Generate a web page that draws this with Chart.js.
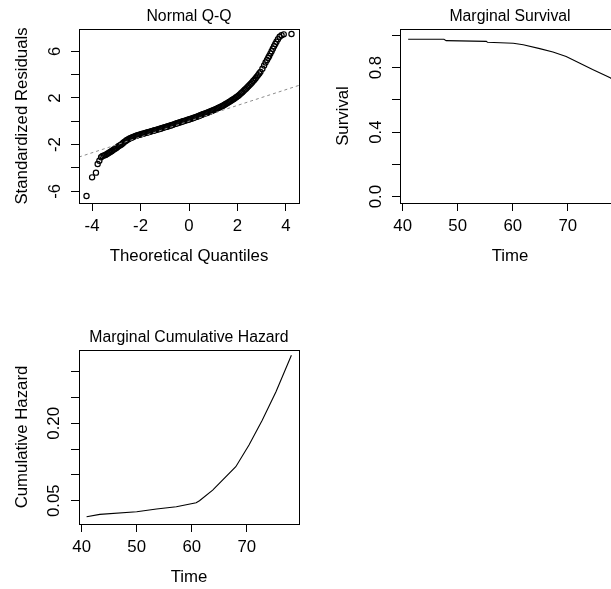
<!DOCTYPE html>
<html><head><meta charset="utf-8">
<script src="https://cdn.jsdelivr.net/npm/chart.js@4.4.0/dist/chart.umd.min.js"></script>
<style>
html,body{margin:0;padding:0;background:#fff;width:611px;height:589px;overflow:hidden;position:relative;}
canvas{position:absolute;}
</style></head><body>
<canvas id="c1" width="321" height="321" style="left:0;top:0"></canvas>
<canvas id="c2" width="321" height="321" style="left:321px;top:0"></canvas>
<canvas id="c3" width="321" height="321" style="left:0;top:321px"></canvas>
<script>
// ---- Data ----
const qqTheoretical = [-4.23,-4.00,-3.84,-3.77,-3.70,-3.63,-3.57,-3.45,-3.35,-3.25,-3.16,-3.05,-2.95,-2.84,-2.74,-2.65,-2.56,-2.45,-2.35,-2.25,-2.15,-2.05,-1.95,-1.85,-1.75,-1.65,-1.55,-1.45,-1.35,-1.25,-1.15,-1.05,-0.95,-0.85,-0.75,-0.65,-0.55,-0.45,-0.35,-0.25,-0.15,-0.05,0.05,0.15,0.25,0.35,0.45,0.55,0.65,0.75,0.85,0.95,1.05,1.15,1.25,1.35,1.45,1.55,1.65,1.75,1.85,1.95,2.05,2.15,2.25,2.35,2.45,2.55,2.65,2.75,2.85,2.95,3.03,3.10,3.16,3.22,3.27,3.31,3.36,3.41,3.46,3.51,3.56,3.61,3.67,3.74,3.82,3.91,4.23,
  -3.50,-3.40,-3.30,-3.20,-3.10,-3.00,-2.90,-2.79,-2.70,-2.60,-2.50,-2.40,-2.30,-2.20,-2.10,-2.00,-1.90,-1.80,-1.70,-1.60,-1.50,-1.40,-1.30,-1.20,-1.10,-1.00,-0.90,-0.80,-0.70,-0.60,-0.50,-0.40,-0.30,-0.20,-0.10,0.00,0.10,0.20,0.30,0.40,0.50,0.60,0.70,0.80,0.90,1.00,1.10,1.20,1.30,1.40,1.50,1.60,1.70,1.80,1.90,2.00,2.10,2.20,2.30,2.40,2.50,2.60,2.70,2.80,2.90];
const qqResiduals = [-6.40,-4.80,-4.40,-3.66,-3.38,-3.08,-2.97,-2.88,-2.75,-2.62,-2.50,-2.35,-2.20,-2.05,-1.90,-1.74,-1.60,-1.47,-1.38,-1.29,-1.22,-1.15,-1.09,-1.03,-0.97,-0.91,-0.85,-0.79,-0.73,-0.67,-0.61,-0.54,-0.48,-0.42,-0.35,-0.28,-0.21,-0.14,-0.07,0.00,0.06,0.13,0.20,0.27,0.34,0.42,0.50,0.58,0.66,0.74,0.82,0.91,0.99,1.09,1.19,1.29,1.40,1.52,1.65,1.78,1.92,2.07,2.22,2.40,2.60,2.80,3.00,3.22,3.45,3.70,3.96,4.24,4.50,4.78,5.04,5.26,5.45,5.60,5.80,6.00,6.22,6.43,6.62,6.82,7.04,7.24,7.38,7.45,7.48,
  -2.93,-2.82,-2.69,-2.56,-2.42,-2.28,-2.12,-1.98,-1.82,-1.67,-1.53,-1.42,-1.33,-1.25,-1.18,-1.12,-1.06,-1.00,-0.94,-0.88,-0.82,-0.76,-0.70,-0.64,-0.57,-0.51,-0.45,-0.38,-0.31,-0.24,-0.17,-0.10,-0.03,0.03,0.10,0.16,0.23,0.30,0.38,0.46,0.54,0.62,0.70,0.78,0.86,0.95,1.04,1.14,1.24,1.34,1.46,1.58,1.71,1.85,1.99,2.14,2.31,2.50,2.70,2.90,3.11,3.33,3.57,3.83,4.10];
const qqLineX = [-4.54, 4.54];
const qqLineY = [-3.06, 3.08];
const qqXTicks = [-4,-2,0,2,4];
const qqXTickLabels = ['-4','-2','0','2','4'];
const qqYTicks = [-6,-4,-2,0,2,4,6];
const qqYTickLabels = ['-6','','-2','','2','','6'];

const survTime  = [41.0,47.5,47.9,55.2,55.4,60.1,61.9,64.9,67.3,69.7,72.1,74.5,77.7,78.1];
const survValue = [0.976,0.976,0.968,0.963,0.958,0.952,0.942,0.918,0.897,0.870,0.829,0.788,0.738,0.725];
const survYTicks = [0,0.2,0.4,0.6,0.8,1.0];
const survYTickLabels = ['0.0','','0.4','','0.8',''];

const hazTime  = [40.9,43.3,50.0,53.6,57.2,60.8,61.4,63.8,68.0,70.4,72.8,75.3,78.1];
const hazValue = [0.019,0.0236,0.0287,0.0339,0.0384,0.0461,0.050,0.0707,0.116,0.158,0.206,0.261,0.332];
const hazYTicks = [0.05,0.10,0.15,0.20,0.25,0.30];
const hazYTickLabels = ['0.05','','','0.20','',''];

const timeTicks = [40,50,60,70];
const timeTickLabels = ['40','50','60','70'];

// ---- Layout / style ----
const FONT = "'Liberation Sans', Arial, Helvetica, sans-serif";
const TICK_SIZE = 16.8, TITLE_SIZE = 15.8, LAB_SIZE = 16.8;
const W = 321, H = 321;
const AREA = {left:79, top:29, right:299, bottom:203};
const TICK_LEN = 8;
const YLABEL_CENTER = 55;

function widest(labels){
  const c = document.createElement('canvas').getContext('2d');
  c.font = TICK_SIZE + 'px ' + FONT;
  return Math.max(...labels.map(l => c.measureText(l).width));
}

const boxPlugin = {
  id:'rbox',
  afterDatasetsDraw(chart){
    const a = chart.chartArea, ctx = chart.ctx;
    ctx.save();
    ctx.strokeStyle = '#000'; ctx.lineWidth = 1;
    ctx.strokeRect(Math.round(a.left)+0.5, Math.round(a.top)+0.5, Math.round(a.right-a.left), Math.round(a.bottom-a.top));
    ctx.restore();
  }
};

function zeroPad(s){ s.paddingLeft = 0; s.paddingRight = 0; s.paddingTop = 0; s.paddingBottom = 0; }

function makePanel(id, p){
  const yPad = Math.max(0, AREA.left - TICK_LEN - YLABEL_CENTER - widest(p.yLabels)/2);
  const gridOpts = {drawOnChartArea:false, drawTicks:true, tickLength:TICK_LEN, color:'#000', lineWidth:1};
  new Chart(document.getElementById(id), {
    type:'scatter',
    data:{datasets:p.datasets},
    plugins:[boxPlugin],
    options:{
      responsive:false, animation:false, devicePixelRatio:1,
      layout:{padding:{left:0, top:0, right:W-AREA.right, bottom:0}},
      plugins:{
        legend:{display:false}, tooltip:{enabled:false},
        title:{display:true, text:p.title, fullSize:false, color:'#000',
          font:{family:FONT, size:TITLE_SIZE, weight:'normal'}, padding:{top:7, bottom:AREA.top-7-TITLE_SIZE*1.2}}
      },
      scales:{
        x:{type:'linear', position:'bottom', min:p.xMin, max:p.xMax, bounds:'data',
          afterBuildTicks: s => { s.ticks = p.xTicks.map(v => ({value:v})); },
          afterFit: s => { s.height = H - AREA.bottom; zeroPad(s); },
          grid:gridOpts, border:{display:false},
          ticks:{autoSkip:false, minRotation:0, maxRotation:0, padding:5, color:'#000',
            font:{family:FONT, size:TICK_SIZE}, callback:(v,i) => p.xLabels[i]},
          title:{display:true, text:p.xTitle, color:'#000', font:{family:FONT, size:LAB_SIZE}, padding:{top:0, bottom:55}}
        },
        y:{type:'linear', position:'left', min:p.yMin, max:p.yMax, bounds:'data',
          afterBuildTicks: s => { s.ticks = p.yTicks.map(v => ({value:v})); },
          afterFit: s => { s.width = AREA.left; zeroPad(s); },
          grid:gridOpts, border:{display:false},
          ticks:{autoSkip:false, minRotation:90, maxRotation:90, crossAlign:'center', padding:yPad, color:'#000',
            font:{family:FONT, size:TICK_SIZE}, callback:(v,i) => p.yLabels[i]},
          title:{display:true, text:p.yTitle, color:'#000', font:{family:FONT, size:LAB_SIZE}, padding:{top:12, bottom:0}}
        }
      }
    }
  });
}

const pts = (xs, ys) => xs.map((x,i) => ({x, y:ys[i]}));

makePanel('c1', {
  title:'Normal Q-Q', xTitle:'Theoretical Quantiles', yTitle:'Standardized Residuals',
  xMin:-4.54, xMax:4.54, yMin:-7.0, yMax:7.91,
  xTicks:qqXTicks, xLabels:qqXTickLabels, yTicks:qqYTicks, yLabels:qqYTickLabels,
  datasets:[
    {data:pts(qqLineX, qqLineY), showLine:true, pointRadius:0, borderColor:'#8c8c8c', borderWidth:1, borderDash:[3,3]},
    {data:pts(qqTheoretical, qqResiduals), pointStyle:'circle', pointRadius:2.6, pointBorderWidth:1.2,
      pointBorderColor:'#000', pointBackgroundColor:'rgba(0,0,0,0)', showLine:false}
  ]
});

makePanel('c2', {
  title:'Marginal Survival', xTitle:'Time', yTitle:'Survival',
  xMin:39.52, xMax:79.48, yMin:-0.04, yMax:1.04,
  xTicks:timeTicks, xLabels:timeTickLabels, yTicks:survYTicks, yLabels:survYTickLabels,
  datasets:[
    {data:pts(survTime, survValue), showLine:true, pointRadius:0, borderColor:'#000', borderWidth:1.1, tension:0}
  ]
});

makePanel('c3', {
  title:'Marginal Cumulative Hazard', xTitle:'Time', yTitle:'Cumulative Hazard',
  xMin:39.52, xMax:79.48, yMin:0.005, yMax:0.342,
  xTicks:timeTicks, xLabels:timeTickLabels, yTicks:hazYTicks, yLabels:hazYTickLabels,
  datasets:[
    {data:pts(hazTime, hazValue), showLine:true, pointRadius:0, borderColor:'#000', borderWidth:1.1, tension:0}
  ]
});
</script>
</body></html>
